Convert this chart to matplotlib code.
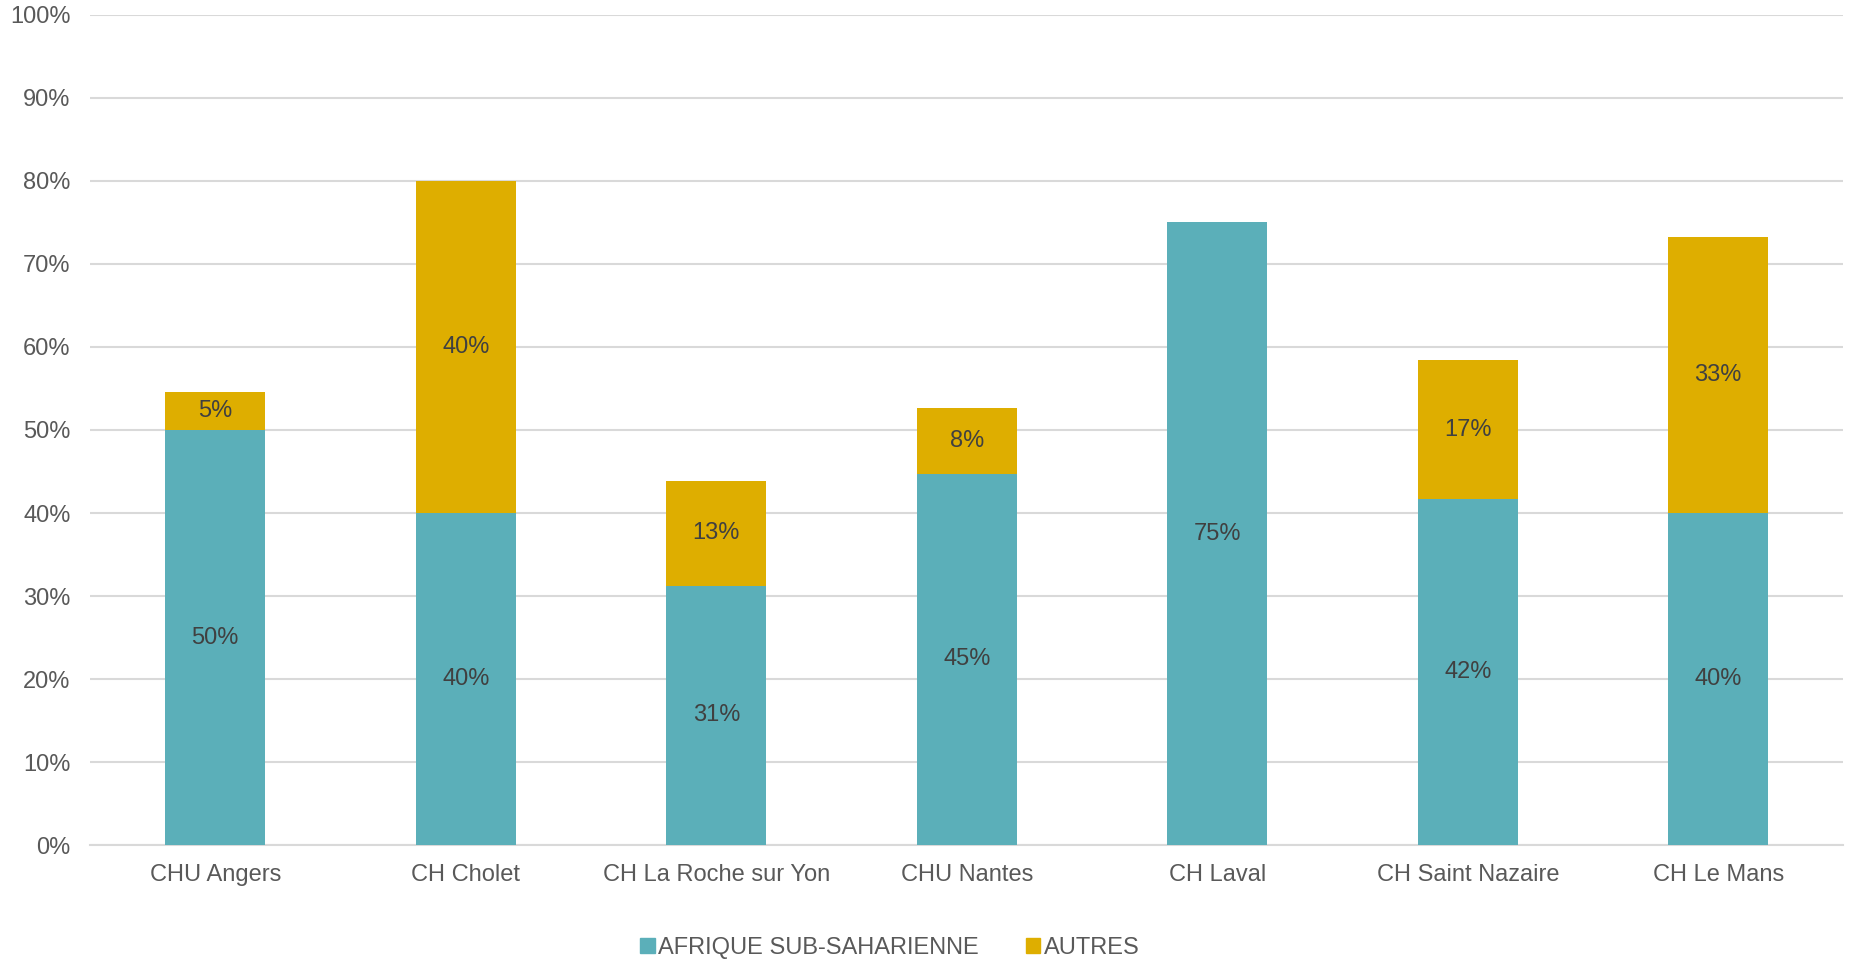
import matplotlib.pyplot as plt
from matplotlib.patches import Patch

plt.rcParams['font.family'] = ['Liberation Sans', 'DejaVu Sans']

# Data (shares in %)
hospitals = ['CHU Angers', 'CH Cholet', 'CH La Roche sur Yon', 'CHU Nantes',
             'CH Laval', 'CH Saint Nazaire', 'CH Le Mans']
afrique = [50.0, 40.0, 31.25, 44.7, 75.0, 41.7, 40.0]
autres = [4.6, 40.0, 12.6, 7.9, 0.0, 16.7, 33.3]
series_names = ['AFRIQUE SUB-SAHARIENNE', 'AUTRES']

teal = '#5BAFB9'
gold = '#DEAE00'

fig = plt.figure(figsize=(18.64, 9.61), dpi=100)
ax = fig.add_axes([0.0483, 0.1207, 0.9407, 0.8637])

x = list(range(len(hospitals)))
ax.bar(x, afrique, width=0.4, color=teal, zorder=3)
ax.bar(x, autres, width=0.4, bottom=afrique, color=gold, zorder=3)

# data labels in the middle of each segment
for i in x:
    if afrique[i] > 0:
        ax.text(i, afrique[i] / 2, '%d%%' % round(afrique[i]), ha='center',
                va='center', fontsize=17, color='#404040', zorder=4)
    if autres[i] > 0:
        ax.text(i, afrique[i] + autres[i] / 2, '%d%%' % round(autres[i]),
                ha='center', va='center', fontsize=17, color='#404040', zorder=4)

ax.set_xlim(-0.5, len(hospitals) - 0.5)
ax.set_ylim(0, 100)
ax.set_yticks(range(0, 101, 10))
ax.set_yticklabels(['%d%%' % v for v in range(0, 101, 10)])
ax.set_xticks(x)
ax.set_xticklabels(hospitals)
ax.tick_params(axis='both', length=0, labelsize=17, colors='#595959')
ax.tick_params(axis='y', pad=14)
ax.tick_params(axis='x', pad=14)

ax.grid(axis='y', color='#D9D9D9', linewidth=1.5, zorder=0)
for side in ['top', 'right', 'left']:
    ax.spines[side].set_visible(False)
ax.spines['bottom'].set_color('#D9D9D9')
ax.spines['bottom'].set_linewidth(1.5)

handles = [Patch(color=teal), Patch(color=gold)]
fig.legend(handles, series_names, loc='center', bbox_to_anchor=(0.4775, 0.014),
           ncol=2, frameon=False, fontsize=17, labelcolor='#595959',
           handlelength=0.6, handleheight=0.6, handletextpad=0.15,
           columnspacing=2.0, borderpad=0)

plt.savefig('out.png')
